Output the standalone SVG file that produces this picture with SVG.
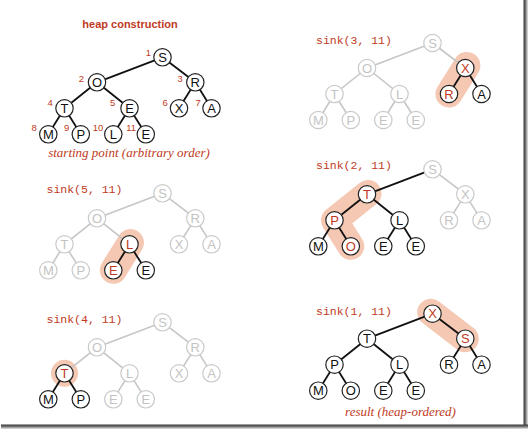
<svg xmlns="http://www.w3.org/2000/svg" width="528" height="430" viewBox="0 0 528 430">
<defs>
<style>
.n circle{fill:#fff;stroke:#222;stroke-width:1.2}
.n text{font-family:"Liberation Sans",Arial,sans-serif;font-size:13px;text-anchor:middle;fill:#111}
.g circle{stroke:#cacaca}
.g text{fill:#c3c3c3}
.r text{fill:#c03a23}
.e line{stroke:#111;stroke-width:1.8}
.e line.gr{stroke:#c6c6c6;stroke-width:1.6}
.hl{stroke:#f4c8b3;stroke-width:27;stroke-linecap:round;stroke-linejoin:round;fill:none}
.lab{font-family:"Liberation Mono","Courier New",monospace;font-size:11.5px;fill:#c03a23}
.cap{font-family:"Liberation Serif","Times New Roman",serif;font-style:italic;font-size:13px;fill:#c03a23;text-anchor:middle}
.ttl{font-family:"Liberation Sans",Arial,sans-serif;font-weight:bold;font-size:11px;fill:#c03a23;text-anchor:middle}
.num{font-family:"Liberation Sans",Arial,sans-serif;font-size:9.5px;fill:#c03a23;text-anchor:end}
</style>
<linearGradient id="shR" x1="0" y1="0" x2="1" y2="0">
<stop offset="0" stop-color="#3a3a3a"/><stop offset="0.4" stop-color="#666"/><stop offset="0.7" stop-color="#aaa"/><stop offset="1" stop-color="#e6e6e6"/>
</linearGradient>
<linearGradient id="shB" x1="0" y1="0" x2="0" y2="1">
<stop offset="0" stop-color="#3a3a3a"/><stop offset="0.4" stop-color="#666"/><stop offset="0.7" stop-color="#aaa"/><stop offset="1" stop-color="#e6e6e6"/>
</linearGradient>
</defs>
<rect x="0" y="0" width="528" height="430" fill="#fff"/>
<rect x="523.5" y="0" width="4.5" height="429" fill="url(#shR)"/>
<rect x="1" y="424.5" width="527" height="4.5" fill="url(#shB)"/>

<!-- labels -->
<g id="labels">
<text class="ttl" x="130" y="27.5">heap construction</text>
<text class="cap" x="129" y="157">starting point (arbitrary order)</text>
<text class="cap" x="400.5" y="415.5">result (heap-ordered)</text>
<text class="lab" x="316" y="44">sink(3, 11)</text>
<text class="lab" x="46.5" y="193">sink(5, 11)</text>
<text class="lab" x="316" y="169">sink(2, 11)</text>
<text class="lab" x="46.5" y="322.5">sink(4, 11)</text>
<text class="lab" x="316" y="314.7">sink(1, 11)</text>
<text class="num" x="151" y="56">1</text>
<text class="num" x="84" y="82">2</text>
<text class="num" x="182.7" y="82">3</text>
<text class="num" x="52.7" y="105.5">4</text>
<text class="num" x="115.3" y="105.5">5</text>
<text class="num" x="167.7" y="105.5">6</text>
<text class="num" x="200.7" y="105.5">7</text>
<text class="num" x="36.7" y="130.5">8</text>
<text class="num" x="69.3" y="130.5">9</text>
<text class="num" x="103.3" y="130.5">10</text>
<text class="num" x="136" y="130.5">11</text>
</g>

<!-- highlights -->
<g id="highlights">
<path class="hl" d="M466.9,65.5 L449,94"/>
<path class="hl" d="M130.5,242.6 L113.3,270.3"/>
<path class="hl" d="M368,193.5 L334.5,220.3 L350.8,246.3"/>
<circle cx="64.5" cy="373.3" r="13.5" fill="#f4c8b3"/>
<path class="hl" d="M430.7,312.3 L465.3,338.7"/>
</g>

<!-- connectors -->
<g id="connectors">
<g id="tl-edges" class="e">
<line x1="162.5" y1="57.3" x2="97" y2="82.3"/>
<line x1="162.5" y1="57.3" x2="195.3" y2="82.3"/>
<line x1="97" y1="82.3" x2="64.5" y2="108.3"/>
<line x1="97" y1="82.3" x2="129.5" y2="108.3"/>
<line x1="195.3" y1="82.3" x2="179" y2="108.3"/>
<line x1="195.3" y1="82.3" x2="211.5" y2="108.3"/>
<line x1="64.5" y1="108.3" x2="48.3" y2="134.3"/>
<line x1="64.5" y1="108.3" x2="80.8" y2="134.3"/>
<line x1="129.5" y1="108.3" x2="113.3" y2="134.3"/>
<line x1="129.5" y1="108.3" x2="145.8" y2="134.3"/>
</g>
<g id="tr-edges" class="e">
<line class="gr" x1="432.5" y1="43" x2="367" y2="68"/>
<line class="gr" x1="432.5" y1="43" x2="465.3" y2="68"/>
<line class="gr" x1="367" y1="68" x2="334.5" y2="94"/>
<line class="gr" x1="367" y1="68" x2="399.5" y2="94"/>
<line x1="465.3" y1="68" x2="449" y2="94"/>
<line x1="465.3" y1="68" x2="481.5" y2="94"/>
<line class="gr" x1="334.5" y1="94" x2="318.3" y2="120"/>
<line class="gr" x1="334.5" y1="94" x2="350.8" y2="120"/>
<line class="gr" x1="399.5" y1="94" x2="383.3" y2="120"/>
<line class="gr" x1="399.5" y1="94" x2="415.8" y2="120"/>
</g>
<g id="ml-edges" class="e">
<line class="gr" x1="162.5" y1="193.3" x2="97" y2="218.3"/>
<line class="gr" x1="162.5" y1="193.3" x2="195.3" y2="218.3"/>
<line class="gr" x1="97" y1="218.3" x2="64.5" y2="244.3"/>
<line class="gr" x1="97" y1="218.3" x2="129.5" y2="244.3"/>
<line class="gr" x1="195.3" y1="218.3" x2="179" y2="244.3"/>
<line class="gr" x1="195.3" y1="218.3" x2="211.5" y2="244.3"/>
<line class="gr" x1="64.5" y1="244.3" x2="48.3" y2="270.3"/>
<line class="gr" x1="64.5" y1="244.3" x2="80.8" y2="270.3"/>
<line x1="129.5" y1="244.3" x2="113.3" y2="270.3"/>
<line x1="129.5" y1="244.3" x2="145.8" y2="270.3"/>
</g>
<g id="mr-edges" class="e">
<line x1="432.5" y1="169.3" x2="367" y2="194.3"/>
<line class="gr" x1="432.5" y1="169.3" x2="465.3" y2="194.3"/>
<line x1="367" y1="194.3" x2="334.5" y2="220.3"/>
<line x1="367" y1="194.3" x2="399.5" y2="220.3"/>
<line class="gr" x1="465.3" y1="194.3" x2="449" y2="220.3"/>
<line class="gr" x1="465.3" y1="194.3" x2="481.5" y2="220.3"/>
<line x1="334.5" y1="220.3" x2="318.3" y2="246.3"/>
<line x1="334.5" y1="220.3" x2="350.8" y2="246.3"/>
<line x1="399.5" y1="220.3" x2="383.3" y2="246.3"/>
<line x1="399.5" y1="220.3" x2="415.8" y2="246.3"/>
</g>
<g id="bl-edges" class="e">
<line class="gr" x1="162.5" y1="322.3" x2="97" y2="347.3"/>
<line class="gr" x1="162.5" y1="322.3" x2="195.3" y2="347.3"/>
<line class="gr" x1="97" y1="347.3" x2="64.5" y2="373.3"/>
<line class="gr" x1="97" y1="347.3" x2="129.5" y2="373.3"/>
<line class="gr" x1="195.3" y1="347.3" x2="179" y2="373.3"/>
<line class="gr" x1="195.3" y1="347.3" x2="211.5" y2="373.3"/>
<line x1="64.5" y1="373.3" x2="48.3" y2="399.3"/>
<line x1="64.5" y1="373.3" x2="80.8" y2="399.3"/>
<line class="gr" x1="129.5" y1="373.3" x2="113.3" y2="399.3"/>
<line class="gr" x1="129.5" y1="373.3" x2="145.8" y2="399.3"/>
</g>
<g id="br-edges" class="e">
<line x1="432.5" y1="313.7" x2="367" y2="338.7"/>
<line x1="432.5" y1="313.7" x2="465.3" y2="338.7"/>
<line x1="367" y1="338.7" x2="334.5" y2="364.7"/>
<line x1="367" y1="338.7" x2="399.5" y2="364.7"/>
<line x1="465.3" y1="338.7" x2="449" y2="364.7"/>
<line x1="465.3" y1="338.7" x2="481.5" y2="364.7"/>
<line x1="334.5" y1="364.7" x2="318.3" y2="390.7"/>
<line x1="334.5" y1="364.7" x2="350.8" y2="390.7"/>
<line x1="399.5" y1="364.7" x2="383.3" y2="390.7"/>
<line x1="399.5" y1="364.7" x2="415.8" y2="390.7"/>
</g>
</g>

<!-- tree: starting point -->
<g id="tree-tl">
<g id="tl-1" class="n"><circle cx="162.5" cy="57.3" r="8.7"/><text x="162.5" y="61.9">S</text></g>
<g id="tl-2" class="n"><circle cx="97" cy="82.3" r="8.7"/><text x="97" y="86.9">O</text></g>
<g id="tl-3" class="n"><circle cx="195.3" cy="82.3" r="8.7"/><text x="195.3" y="86.9">R</text></g>
<g id="tl-4" class="n"><circle cx="64.5" cy="108.3" r="8.7"/><text x="64.5" y="112.9">T</text></g>
<g id="tl-5" class="n"><circle cx="129.5" cy="108.3" r="8.7"/><text x="129.5" y="112.9">E</text></g>
<g id="tl-6" class="n"><circle cx="179" cy="108.3" r="8.7"/><text x="179" y="112.9">X</text></g>
<g id="tl-7" class="n"><circle cx="211.5" cy="108.3" r="8.7"/><text x="211.5" y="112.9">A</text></g>
<g id="tl-8" class="n"><circle cx="48.3" cy="134.3" r="8.7"/><text x="48.3" y="138.9">M</text></g>
<g id="tl-9" class="n"><circle cx="80.8" cy="134.3" r="8.7"/><text x="80.8" y="138.9">P</text></g>
<g id="tl-10" class="n"><circle cx="113.3" cy="134.3" r="8.7"/><text x="113.3" y="138.9">L</text></g>
<g id="tl-11" class="n"><circle cx="145.8" cy="134.3" r="8.7"/><text x="145.8" y="138.9">E</text></g>
</g>

<!-- tree: sink(3,11) -->
<g id="tree-tr">
<g id="tr-1" class="n g"><circle cx="432.5" cy="43" r="8.7"/><text x="432.5" y="47.6">S</text></g>
<g id="tr-2" class="n g"><circle cx="367" cy="68" r="8.7"/><text x="367" y="72.6">O</text></g>
<g id="tr-3" class="n r"><circle cx="465.3" cy="68" r="8.7"/><text x="465.3" y="72.6">X</text></g>
<g id="tr-4" class="n g"><circle cx="334.5" cy="94" r="8.7"/><text x="334.5" y="98.6">T</text></g>
<g id="tr-5" class="n g"><circle cx="399.5" cy="94" r="8.7"/><text x="399.5" y="98.6">L</text></g>
<g id="tr-6" class="n r"><circle cx="449" cy="94" r="8.7"/><text x="449" y="98.6">R</text></g>
<g id="tr-7" class="n"><circle cx="481.5" cy="94" r="8.7"/><text x="481.5" y="98.6">A</text></g>
<g id="tr-8" class="n g"><circle cx="318.3" cy="120" r="8.7"/><text x="318.3" y="124.6">M</text></g>
<g id="tr-9" class="n g"><circle cx="350.8" cy="120" r="8.7"/><text x="350.8" y="124.6">P</text></g>
<g id="tr-10" class="n g"><circle cx="383.3" cy="120" r="8.7"/><text x="383.3" y="124.6">E</text></g>
<g id="tr-11" class="n g"><circle cx="415.8" cy="120" r="8.7"/><text x="415.8" y="124.6">E</text></g>
</g>

<!-- tree: sink(5,11) -->
<g id="tree-ml">
<g id="ml-1" class="n g"><circle cx="162.5" cy="193.3" r="8.7"/><text x="162.5" y="197.9">S</text></g>
<g id="ml-2" class="n g"><circle cx="97" cy="218.3" r="8.7"/><text x="97" y="222.9">O</text></g>
<g id="ml-3" class="n g"><circle cx="195.3" cy="218.3" r="8.7"/><text x="195.3" y="222.9">R</text></g>
<g id="ml-4" class="n g"><circle cx="64.5" cy="244.3" r="8.7"/><text x="64.5" y="248.9">T</text></g>
<g id="ml-5" class="n r"><circle cx="129.5" cy="244.3" r="8.7"/><text x="129.5" y="248.9">L</text></g>
<g id="ml-6" class="n g"><circle cx="179" cy="244.3" r="8.7"/><text x="179" y="248.9">X</text></g>
<g id="ml-7" class="n g"><circle cx="211.5" cy="244.3" r="8.7"/><text x="211.5" y="248.9">A</text></g>
<g id="ml-8" class="n g"><circle cx="48.3" cy="270.3" r="8.7"/><text x="48.3" y="274.9">M</text></g>
<g id="ml-9" class="n g"><circle cx="80.8" cy="270.3" r="8.7"/><text x="80.8" y="274.9">P</text></g>
<g id="ml-10" class="n r"><circle cx="113.3" cy="270.3" r="8.7"/><text x="113.3" y="274.9">E</text></g>
<g id="ml-11" class="n"><circle cx="145.8" cy="270.3" r="8.7"/><text x="145.8" y="274.9">E</text></g>
</g>

<!-- tree: sink(2,11) -->
<g id="tree-mr">
<g id="mr-1" class="n g"><circle cx="432.5" cy="169.3" r="8.7"/><text x="432.5" y="173.9">S</text></g>
<g id="mr-2" class="n r"><circle cx="367" cy="194.3" r="8.7"/><text x="367" y="198.9">T</text></g>
<g id="mr-3" class="n g"><circle cx="465.3" cy="194.3" r="8.7"/><text x="465.3" y="198.9">X</text></g>
<g id="mr-4" class="n r"><circle cx="334.5" cy="220.3" r="8.7"/><text x="334.5" y="224.9">P</text></g>
<g id="mr-5" class="n"><circle cx="399.5" cy="220.3" r="8.7"/><text x="399.5" y="224.9">L</text></g>
<g id="mr-6" class="n g"><circle cx="449" cy="220.3" r="8.7"/><text x="449" y="224.9">R</text></g>
<g id="mr-7" class="n g"><circle cx="481.5" cy="220.3" r="8.7"/><text x="481.5" y="224.9">A</text></g>
<g id="mr-8" class="n"><circle cx="318.3" cy="246.3" r="8.7"/><text x="318.3" y="250.9">M</text></g>
<g id="mr-9" class="n r"><circle cx="350.8" cy="246.3" r="8.7"/><text x="350.8" y="250.9">O</text></g>
<g id="mr-10" class="n"><circle cx="383.3" cy="246.3" r="8.7"/><text x="383.3" y="250.9">E</text></g>
<g id="mr-11" class="n"><circle cx="415.8" cy="246.3" r="8.7"/><text x="415.8" y="250.9">E</text></g>
</g>

<!-- tree: sink(4,11) -->
<g id="tree-bl">
<g id="bl-1" class="n g"><circle cx="162.5" cy="322.3" r="8.7"/><text x="162.5" y="326.9">S</text></g>
<g id="bl-2" class="n g"><circle cx="97" cy="347.3" r="8.7"/><text x="97" y="351.9">O</text></g>
<g id="bl-3" class="n g"><circle cx="195.3" cy="347.3" r="8.7"/><text x="195.3" y="351.9">R</text></g>
<g id="bl-4" class="n r"><circle cx="64.5" cy="373.3" r="8.7"/><text x="64.5" y="377.9">T</text></g>
<g id="bl-5" class="n g"><circle cx="129.5" cy="373.3" r="8.7"/><text x="129.5" y="377.9">L</text></g>
<g id="bl-6" class="n g"><circle cx="179" cy="373.3" r="8.7"/><text x="179" y="377.9">X</text></g>
<g id="bl-7" class="n g"><circle cx="211.5" cy="373.3" r="8.7"/><text x="211.5" y="377.9">A</text></g>
<g id="bl-8" class="n"><circle cx="48.3" cy="399.3" r="8.7"/><text x="48.3" y="403.9">M</text></g>
<g id="bl-9" class="n"><circle cx="80.8" cy="399.3" r="8.7"/><text x="80.8" y="403.9">P</text></g>
<g id="bl-10" class="n g"><circle cx="113.3" cy="399.3" r="8.7"/><text x="113.3" y="403.9">E</text></g>
<g id="bl-11" class="n g"><circle cx="145.8" cy="399.3" r="8.7"/><text x="145.8" y="403.9">E</text></g>
</g>

<!-- tree: sink(1,11) result -->
<g id="tree-br">
<g id="br-1" class="n r"><circle cx="432.5" cy="313.7" r="8.7"/><text x="432.5" y="318.3">X</text></g>
<g id="br-2" class="n"><circle cx="367" cy="338.7" r="8.7"/><text x="367" y="343.3">T</text></g>
<g id="br-3" class="n r"><circle cx="465.3" cy="338.7" r="8.7"/><text x="465.3" y="343.3">S</text></g>
<g id="br-4" class="n"><circle cx="334.5" cy="364.7" r="8.7"/><text x="334.5" y="369.3">P</text></g>
<g id="br-5" class="n"><circle cx="399.5" cy="364.7" r="8.7"/><text x="399.5" y="369.3">L</text></g>
<g id="br-6" class="n"><circle cx="449" cy="364.7" r="8.7"/><text x="449" y="369.3">R</text></g>
<g id="br-7" class="n"><circle cx="481.5" cy="364.7" r="8.7"/><text x="481.5" y="369.3">A</text></g>
<g id="br-8" class="n"><circle cx="318.3" cy="390.7" r="8.7"/><text x="318.3" y="395.3">M</text></g>
<g id="br-9" class="n"><circle cx="350.8" cy="390.7" r="8.7"/><text x="350.8" y="395.3">O</text></g>
<g id="br-10" class="n"><circle cx="383.3" cy="390.7" r="8.7"/><text x="383.3" y="395.3">E</text></g>
<g id="br-11" class="n"><circle cx="415.8" cy="390.7" r="8.7"/><text x="415.8" y="395.3">E</text></g>
</g>
</svg>
